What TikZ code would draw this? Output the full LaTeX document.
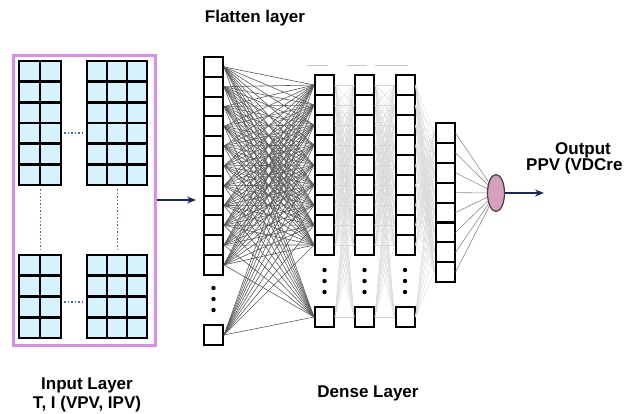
\documentclass[tikz,border=0pt]{standalone}
\usepackage{fontspec}
\setmainfont{Liberation Sans}
\usetikzlibrary{arrows.meta,shapes.geometric}

\begin{document}
\begin{tikzpicture}[x=1pt,y=-1pt,
cell/.style = {draw, line width=2.6pt, fill=cyan!16, minimum width=#1, minimum height=20.6pt, inner sep=0pt},
unit/.style = {draw, line width=2pt, fill=white, minimum width=19pt, minimum height=19.8pt, inner sep=0pt},
link/.style = {draw=black!65, line width=0.6pt},
mesh/.style = {draw=black!16, line width=0.35pt},
dotline/.style = {draw={rgb,255:red,70;green,110;blue,175}, dotted, line width=1.5pt},
flow/.style = {-{Stealth[length=9pt,width=7pt]}, line width=1.4pt, draw={rgb,255:red,25;green,40;blue,100}},
lbl/.style = {font=\bfseries\fontsize{17}{19}\selectfont, align=center}]
\useasboundingbox (0,0) rectangle (628,413);

% input maps
\node[draw={rgb,255:red,218;green,140;blue,238}, line width=3pt, minimum width=142pt, minimum height=290pt, inner sep=0pt] (inbox) at (84,200) {};
\foreach \r in {1,...,6} {
    \foreach \c in {1,2}
        \node[cell=21pt] (tl\c\r) at ({19+21*(\c-0.5)},{61+20.67*(\r-0.5)}) {};
    \foreach \c in {1,2,3}
        \node[cell=20pt] (tr\c\r) at ({87+20*(\c-0.5)},{61+20.67*(\r-0.5)}) {};
}
\foreach \r in {1,...,4} {
    \foreach \c in {1,2}
        \node[cell=21pt] (bl\c\r) at ({19+21*(\c-0.5)},{255+20.75*(\r-0.5)}) {};
    \foreach \c in {1,2,3}
        \node[cell=20pt] (br\c\r) at ({87+20*(\c-0.5)},{255+20.75*(\r-0.5)}) {};
}
\draw[dotline] (64,133) -- (84,133);
\draw[dotline] (64,302) -- (84,302);
\draw[dotline] (40.5,189) -- (40.5,252);
\draw[dotline] (117.5,189) -- (117.5,252);

% flatten layer
\foreach \i in {1,...,11}
    \node[unit] (f\i) at (213.5,{57+19.8*(\i-0.5)}) {};
\node[unit] (f12) at (213.5,335) {};
\foreach \y in {288,299,310}
    \fill (213.5,\y) circle (2.2pt);

% dense layers
\foreach \c/\x in {1/324.5,2/364.5,3/405} {
    \foreach \i in {1,...,9}
        \node[unit] (d\c-\i) at (\x,{75+20*(\i-0.5)}) {};
    \node[unit] (d\c-10) at (\x,317) {};
    \foreach \y in {270,281,292}
        \fill (\x,\y) circle (2.2pt);
}
\foreach \i in {1,...,8}
    \node[unit] (h\i) at (445,{123+19.9*(\i-0.5)}) {};
\draw[black!22] (307,65) -- (328,65) (347,65) -- (367,65) (375,65) -- (408,65);

% output neuron
\node[ellipse, draw=black!75, line width=1.2pt, fill={rgb,255:red,214;green,160;blue,186}, minimum width=17pt, minimum height=37pt, inner sep=0pt] (out) at (496,193) {};

% weights
\foreach \i in {1,...,12}
    \foreach \j in {1,...,10}
        \draw[link] (f\i.east) -- (d1-\j.west);
\foreach \c/\n in {1/2,2/3}
    \foreach \i in {1,...,10}
        \foreach \j in {1,...,10}
            \draw[mesh] (d\c-\i.east) -- (d\n-\j.west);
\foreach \i in {1,...,10}
    \foreach \j in {1,...,8}
        \draw[mesh] (d3-\i.east) -- (h\j.west);
\foreach \j in {1,...,8}
    \draw[link, draw=black!45] (h\j.east) -- (out);

\coordinate (fin) at (196,200);
\coordinate (pout) at (544,193);
\draw[flow] (inbox.east) -- (fin);
\draw[flow] (out) -- (pout);

\node[lbl] (flat) at (255,18) {Flatten layer};
\node[lbl] (dense) at (368,393) {Dense Layer};
\node[lbl] (inp) at (87,394.5) {Input Layer\\T, I (VPV, IPV)};
\node[lbl] (outlbl) at (583,150) {Output};
\node[lbl, anchor=west, inner sep=0pt] (ppv) at (526,166) {PPV (VDCre};
\end{tikzpicture}
\end{document}
